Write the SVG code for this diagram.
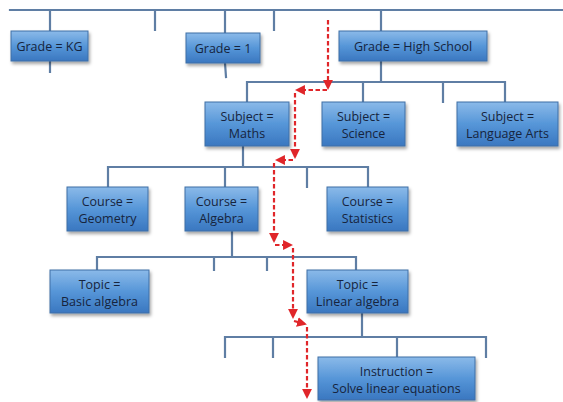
<svg xmlns="http://www.w3.org/2000/svg" width="563" height="402" viewBox="0 0 563 402">
<style>
.box{fill:url(#g);stroke:#3f6fa6;stroke-width:1;filter:url(#sh)}
.t{font-family:"Open Sans","Liberation Sans",sans-serif;font-size:12.5px;fill:#16243d;text-anchor:middle}
.ln{stroke:#5f7ea4;stroke-width:2.2;fill:none;stroke-linecap:square}
.rd{stroke:#e0262a;stroke-width:2.2;fill:none;stroke-dasharray:4.5 2.5}
</style>
<defs>
<linearGradient id="g" x1="0" y1="0" x2="0" y2="1">
<stop offset="0" stop-color="#8bbae9"/>
<stop offset="0.5" stop-color="#5696d8"/>
<stop offset="1" stop-color="#3a77c0"/>
</linearGradient>
<filter id="sh" x="-10%" y="-10%" width="125%" height="140%">
<feDropShadow dx="1.5" dy="2.5" stdDeviation="1.5" flood-color="#000" flood-opacity="0.35"/>
</filter>
<marker id="ar" viewBox="0 0 10 10" refX="8" refY="5" markerWidth="4.5" markerHeight="4.5" orient="auto" markerUnits="strokeWidth">
<path d="M0,0 L10,5 L0,10 z" fill="#e0262a"/>
</marker>
</defs>
<g id="connectors">
<path class="ln" d="M10,10 H563 M50,10 V31 M155,10 V30 M225,10 V33 M274,10 V30 M381,10 V31"/>
<path class="ln" d="M50,61 V72 M225,63 L226,77"/>
<path class="ln" d="M381,61 V82 M247,82 H505 M247,82 V102 M363,82 V102 M443,82 V102 M505,82 V102"/>
<path class="ln" d="M243,146 V167 M108,167 H368 M108,167 V187 M225,167 V187 M307,167 V187 M368,167 V187"/>
<path class="ln" d="M232,231 V257 M97,257 H356 M97,257 V270 M214,257 V270 M267,257 V270 M356,257 V270"/>
<path class="ln" d="M362,313 V337 M225,337 H486 M225,337 V357 M273,337 V357 M397,337 V357 M486,337 V357"/>
</g>
<g id="path-red">
<path class="rd" marker-end="url(#ar)" d="M328,20 V88"/>
<path class="rd" marker-end="url(#ar)" d="M327,90 H297"/>
<path class="rd" marker-end="url(#ar)" d="M295,93 V157"/>
<path class="rd" marker-end="url(#ar)" d="M293,160 H277"/>
<path class="rd" marker-end="url(#ar)" d="M274,163 V241"/>
<path class="rd" marker-end="url(#ar)" d="M275,245 H291"/>
<path class="rd" marker-end="url(#ar)" d="M293,248 V317"/>
<path class="rd" marker-end="url(#ar)" d="M294,321 L305,324"/>
<path class="rd" marker-end="url(#ar)" d="M307,327 V397"/>
</g>
<g id="n-kg"><rect class="box" x="11" y="31" width="77" height="30"/><text class="t" x="49.5" y="50.5">Grade = KG</text></g>
<g id="n-g1"><rect class="box" x="186" y="33" width="74" height="30"/><text class="t" x="223" y="52.5">Grade = 1</text></g>
<g id="n-hs"><rect class="box" x="339" y="31" width="148" height="30"/><text class="t" x="413" y="50.5">Grade = High School</text></g>
<g id="n-maths"><rect class="box" x="205" y="102" width="84" height="44"/><text class="t" x="247" y="121">Subject =</text><text class="t" x="247" y="138">Maths</text></g>
<g id="n-science"><rect class="box" x="322" y="102" width="83" height="44"/><text class="t" x="363.5" y="121">Subject =</text><text class="t" x="363.5" y="138">Science</text></g>
<g id="n-lang"><rect class="box" x="457" y="102" width="101" height="44"/><text class="t" x="507.5" y="121">Subject =</text><text class="t" x="507.5" y="138">Language Arts</text></g>
<g id="n-geometry"><rect class="box" x="67" y="187" width="81" height="44"/><text class="t" x="107.5" y="206">Course =</text><text class="t" x="107.5" y="223">Geometry</text></g>
<g id="n-algebra"><rect class="box" x="185" y="187" width="73" height="44"/><text class="t" x="221.5" y="206">Course =</text><text class="t" x="221.5" y="223">Algebra</text></g>
<g id="n-statistics"><rect class="box" x="327" y="187" width="81" height="44"/><text class="t" x="367.5" y="206">Course =</text><text class="t" x="367.5" y="223">Statistics</text></g>
<g id="n-basic"><rect class="box" x="50" y="270" width="99" height="43"/><text class="t" x="99.5" y="288.5">Topic =</text><text class="t" x="99.5" y="305.5">Basic algebra</text></g>
<g id="n-linear"><rect class="box" x="307" y="270" width="101" height="43"/><text class="t" x="357.5" y="288.5">Topic =</text><text class="t" x="357.5" y="305.5">Linear algebra</text></g>
<g id="n-instr"><rect class="box" x="318" y="357" width="157" height="43"/><text class="t" x="396.5" y="375.5">Instruction =</text><text class="t" x="396.5" y="392.5">Solve linear equations</text></g>
</svg>
